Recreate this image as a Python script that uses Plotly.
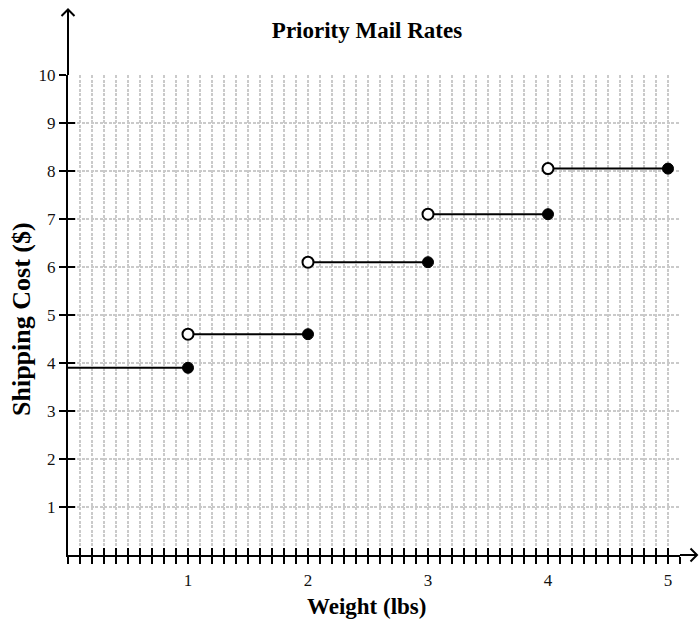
import plotly.graph_objects as go

# ---- data ----
seg_start = [0, 1, 2, 3, 4]          # weight where each rate step begins (lbs)
seg_end = [1, 2, 3, 4, 5]            # weight where each rate step ends (lbs)
costs = [3.9, 4.6, 6.1, 7.1, 8.05]   # shipping cost ($)
x_tick_vals = [1, 2, 3, 4, 5]
x_tick_text = ["1", "2", "3", "4", "5"]
y_tick_vals = [1, 2, 3, 4, 5, 6, 7, 8, 9, 10]
y_tick_text = ["1", "2", "3", "4", "5", "6", "7", "8", "9", "10"]

FONT = "Liberation Serif"

# step segments
line_x, line_y = [], []
for a, b, c in zip(seg_start, seg_end, costs):
    line_x += [a, b, None]
    line_y += [c, c, None]

open_x = [a for a in seg_start if a > 0]
open_y = [c for a, c in zip(seg_start, costs) if a > 0]

fig = go.Figure()
# invisible traces so the overlay axes (inner half of the crossing ticks) are drawn
fig.add_trace(go.Scatter(x=seg_end, y=costs, xaxis="x2", yaxis="y",
                         mode="markers", marker=dict(opacity=0),
                         hoverinfo="skip", showlegend=False))
fig.add_trace(go.Scatter(x=seg_end, y=costs, xaxis="x", yaxis="y2",
                         mode="markers", marker=dict(opacity=0),
                         hoverinfo="skip", showlegend=False))
fig.add_trace(go.Scatter(x=line_x, y=line_y, mode="lines",
                         line=dict(color="black", width=2),
                         hoverinfo="skip", showlegend=False, cliponaxis=False))
fig.add_trace(go.Scatter(x=open_x, y=open_y, mode="markers",
                         marker=dict(symbol="circle", size=11, color="white",
                                     line=dict(color="black", width=2)),
                         showlegend=False, cliponaxis=False))
fig.add_trace(go.Scatter(x=seg_end, y=costs, mode="markers",
                         marker=dict(symbol="circle", size=11, color="black",
                                     line=dict(color="black", width=1)),
                         showlegend=False, cliponaxis=False))

grid_col = "#cacaca"
grid_dash = "3px,1.5px"
grid_w = 1.5
tickfont = dict(family=FONT, size=17, color="#111")

W, H = 700, 620
fig.update_layout(
    width=W, height=H,
    margin=dict(l=68, r=20, t=75, b=65),
    paper_bgcolor="white", plot_bgcolor="white",
    font=dict(family=FONT, color="black"),
    title=dict(text="<b>Priority Mail Rates</b>", x=367 / W,
               y=1 - 30 / H, xanchor="center", yanchor="middle",
               font=dict(family=FONT, size=23, color="black")),
    xaxis=dict(range=[0, 5.1], tickmode="array", tickvals=x_tick_vals,
               ticktext=x_tick_text, ticks="outside", ticklen=7, tickwidth=2,
               tickcolor="black", tickfont=tickfont, ticklabelstandoff=2,
               showline=True, linewidth=2, linecolor="black", zeroline=False,
               showgrid=True, gridcolor=grid_col, gridwidth=grid_w,
               griddash=grid_dash,
               minor=dict(tickmode="linear", tick0=0, dtick=0.1, ticks="outside",
                          ticklen=7, tickwidth=2, tickcolor="black",
                          showgrid=True, gridcolor=grid_col, gridwidth=grid_w,
                          griddash=grid_dash),
               fixedrange=True),
    xaxis2=dict(range=[0, 5.1], overlaying="x", anchor="y", side="bottom",
                tickmode="array", tickvals=x_tick_vals, ticks="inside",
                ticklen=7, tickwidth=2, tickcolor="black",
                showticklabels=False, showline=False, showgrid=False,
                zeroline=False, fixedrange=True,
                minor=dict(tickmode="linear", tick0=0, dtick=0.1, ticks="inside",
                           ticklen=7, tickwidth=2, tickcolor="black",
                           showgrid=False)),
    yaxis=dict(range=[0, 10], tickmode="array", tickvals=y_tick_vals,
               ticktext=y_tick_text, ticks="outside", ticklen=7, tickwidth=2,
               tickcolor="black", tickfont=tickfont,
               showline=True, linewidth=2, linecolor="black", zeroline=False,
               showgrid=True, gridcolor=grid_col, gridwidth=grid_w,
               griddash=grid_dash, fixedrange=True),
    yaxis2=dict(range=[0, 10], overlaying="y", anchor="x", side="left",
                tickmode="array", tickvals=y_tick_vals, ticks="inside",
                ticklen=7, tickwidth=2, tickcolor="black",
                showticklabels=False, showline=False, showgrid=False,
                zeroline=False, fixedrange=True),
    annotations=[
        dict(text="<b>Weight (lbs)</b>", xref="paper", yref="paper",
             x=(366 - 68) / 612, y=-(606 - 555) / 480, xanchor="center",
             yanchor="middle", showarrow=False,
             font=dict(family=FONT, size=23, color="black")),
        dict(text="<b>Shipping Cost ($)</b>", xref="paper", yref="paper",
             x=-(68 - 21) / 612, y=(555 - 319) / 480, xanchor="center",
             yanchor="middle", showarrow=False, textangle=-90,
             font=dict(family=FONT, size=26, color="black")),
    ],
)

# axis extensions with open arrowheads (paper coords)
def px(xp):
    return (xp - 68) / 612

def py(yp):
    return (555 - yp) / 480

axis_style = dict(color="black", width=2)
fig.add_shape(type="line", xref="paper", yref="paper",
              x0=0, x1=0, y0=1, y1=py(9.5), line=axis_style)
fig.add_shape(type="path", xref="paper", yref="paper",
              path=f"M {px(61.5)} {py(16)} L {px(68)} {py(9.5)} L {px(74.5)} {py(16)}",
              line=axis_style)
fig.add_shape(type="line", xref="paper", yref="paper",
              x0=1, x1=px(697), y0=0, y1=0, line=axis_style)
fig.add_shape(type="path", xref="paper", yref="paper",
              path=f"M {px(690.5)} {py(548.5)} L {px(697)} {py(555)} L {px(690.5)} {py(561.5)}",
              line=axis_style)

# remove the browser's default 8px body margin so the 700x620 figure fills the window
fig.write_html("out.html", config={"displayModeBar": False},
               post_script="document.body.style.margin='0';document.body.style.overflow='hidden';")
